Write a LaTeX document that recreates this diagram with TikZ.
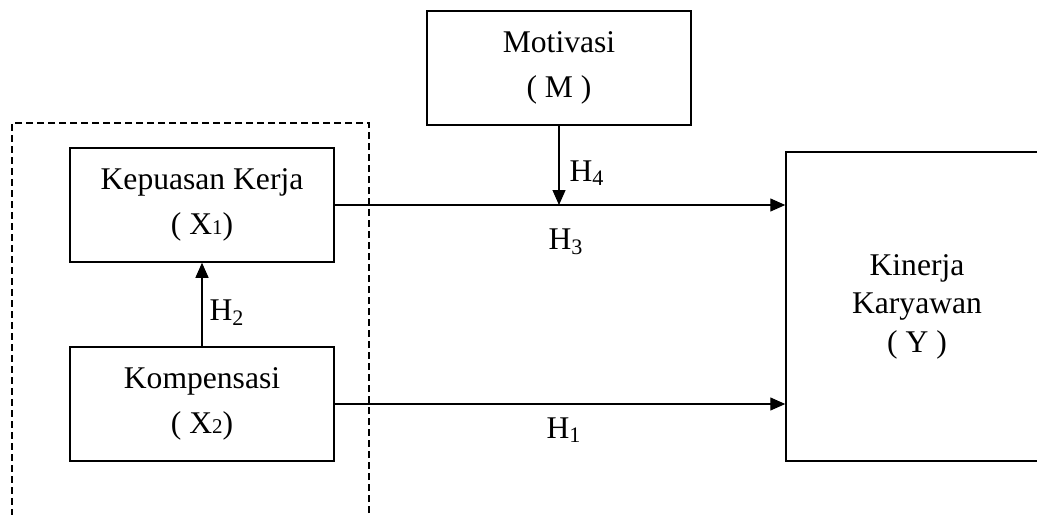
\documentclass[tikz,border=0pt]{standalone}
\usepackage{fontspec}
\setmainfont{Liberation Serif}
\usepackage{tikz}
\usetikzlibrary{positioning, arrows.meta}
\newcommand{\smallsub}[1]{{\fontsize{10.5}{12}\selectfont #1}}
\tikzset{
    varbox/.style={rectangle, draw, line width=0.75pt, minimum width=132pt, minimum height=57pt, inner sep=0pt, align=center, font=\fontsize{15.8}{22.5}\selectfont},
    bigbox/.style={varbox, minimum width=131pt, minimum height=154.5pt, font=\fontsize{15.8}{19.3}\selectfont},
    groupbox/.style={rectangle, draw, line width=0.65pt, dash pattern=on 3.5pt off 2pt, minimum width=178.5pt, minimum height=203.5pt, inner sep=0pt},
    hlabel/.style={inner sep=0pt, font=\fontsize{15.8}{19}\selectfont},
    link/.style={-{Triangle[length=7.5pt,width=6.5pt]}, line width=0.65pt}
}

\begin{document}
\begin{tikzpicture}[x=0.5pt, y=-0.5pt]
    \useasboundingbox (0,0) rectangle (1037,514);
    % dashed group round the two exogenous variables
    \node[groupbox] (grp) at (190.5,326.5) {};
    \node[varbox] (M) at (559,68) {Motivasi\\( M )};
    \node[varbox] (X1) at (202,205) {Kepuasan Kerja\\( X\smallsub{1})};
    \node[varbox] (X2) at (202,404) {Kompensasi\\( X\smallsub{2})};
    \node[bigbox] (Y) at (917,306.5) {Kinerja\\Karyawan\\( Y )};

    % paths
    \draw[link] (X2.north) -- (X1.south);
    \draw[link] (X1.east) -- (X1.east -| Y.west);
    \draw[link] (X2.east) -- (X2.east -| Y.west);
    \draw[link] (M.south) -- (M.south |- X1.east);

    % hypothesis labels
    \node[hlabel] (h1) at (564,430) {H\textsubscript{1}};
    \node[hlabel] (h2) at (227,313) {H\textsubscript{2}};
    \node[hlabel] (h3) at (566,242) {H\textsubscript{3}};
    \node[hlabel] (h4) at (587,173) {H\textsubscript{4}};
\end{tikzpicture}
\end{document}
